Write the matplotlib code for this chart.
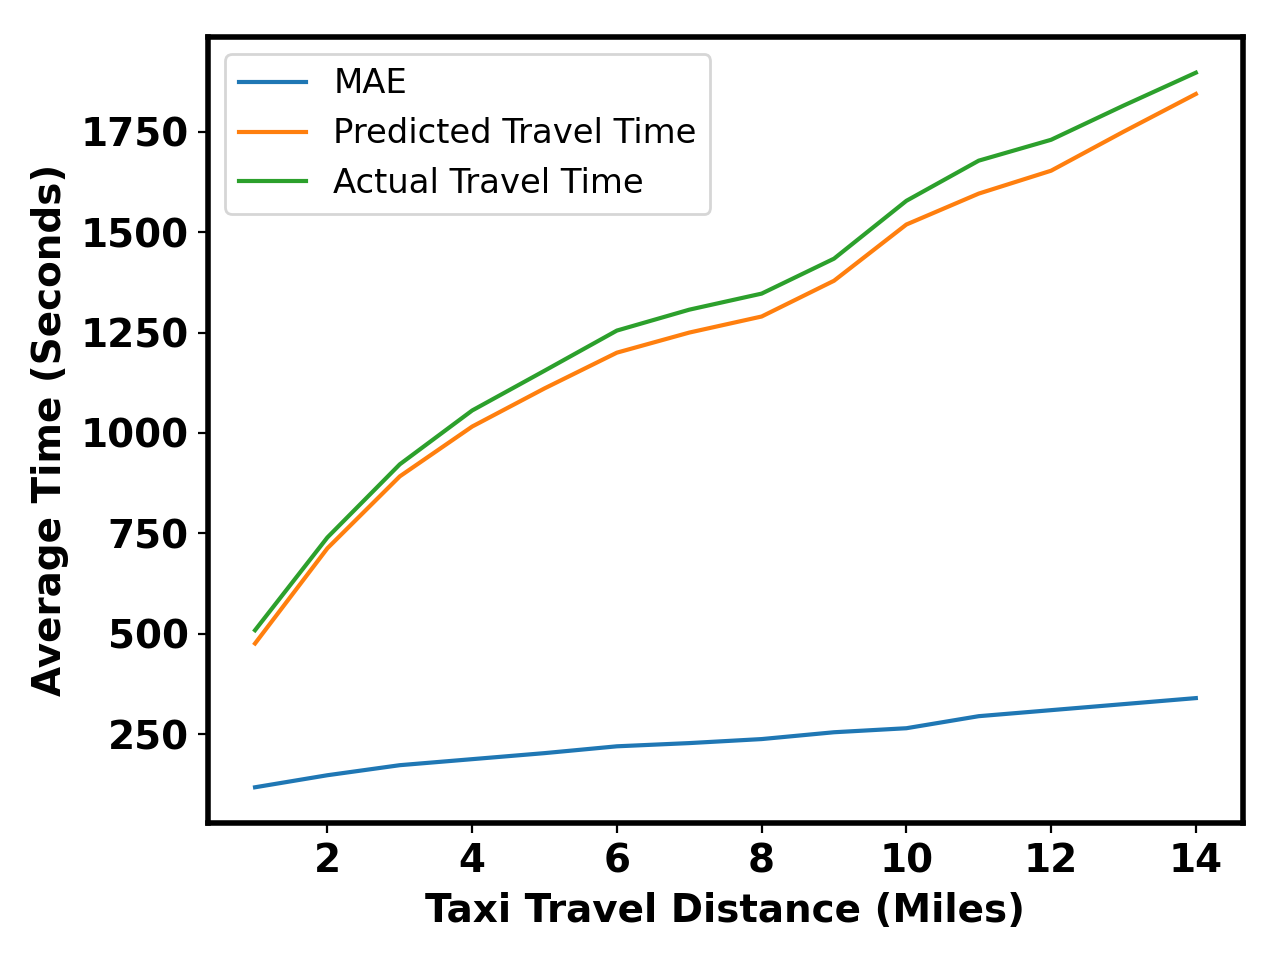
import matplotlib
matplotlib.use("Agg")
import matplotlib.pyplot as plt

# distance in miles
distance = [1, 2, 3, 4, 5, 6, 7, 8, 9, 10, 11, 12, 13, 14]
# average times in seconds
mae = [118, 148, 173, 188, 203, 220, 228, 238, 255, 265, 295, 310, 325, 340]
predicted = [476, 713, 892, 1016, 1111, 1200, 1250, 1290, 1379, 1519, 1596, 1653, 1750, 1844]
actual = [509, 740, 922, 1056, 1155, 1255, 1307, 1347, 1434, 1578, 1678, 1730, 1815, 1897]

plt.rcParams["font.family"] = "DejaVu Sans"

fig, ax = plt.subplots(figsize=(6.4, 4.8), dpi=200)
ax.plot(distance, mae, label="MAE")
ax.plot(distance, predicted, label="Predicted Travel Time")
ax.plot(distance, actual, label="Actual Travel Time")

ax.set_xlabel("Taxi Travel Distance (Miles)", fontsize=14, fontweight="bold")
ax.set_ylabel("Average Time (Seconds)", fontsize=14, fontweight="bold")
ax.set_yticks([250, 500, 750, 1000, 1250, 1500, 1750])
ax.set_xticks([2, 4, 6, 8, 10, 12, 14])
for lbl in ax.get_xticklabels() + ax.get_yticklabels():
    lbl.set_fontsize(14)
    lbl.set_fontweight("bold")
for sp in ax.spines.values():
    sp.set_linewidth(2)

ax.legend(loc="upper left", fontsize=12.2)

fig.subplots_adjust(left=0.1625, right=0.971, bottom=0.1427, top=0.9615)
plt.savefig("out.png")
